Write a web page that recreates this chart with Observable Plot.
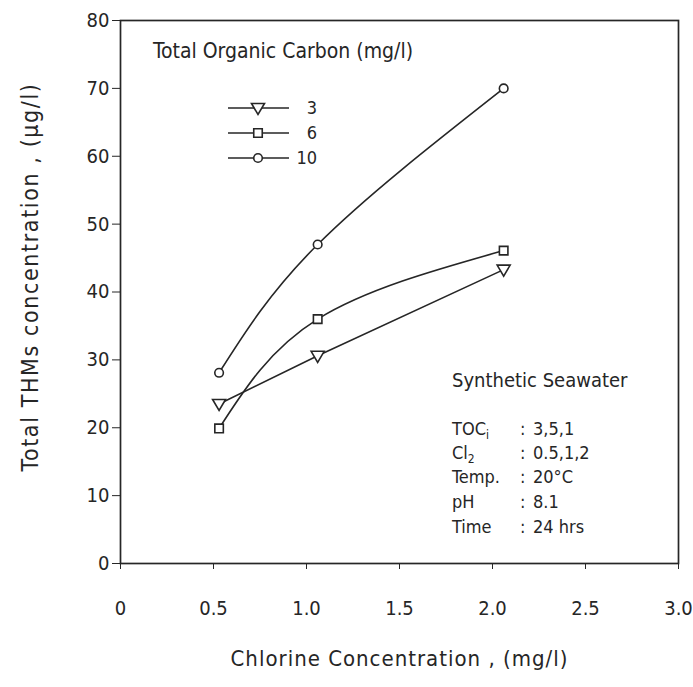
<!DOCTYPE html>
<html><head><meta charset="utf-8">
<script src="https://cdn.jsdelivr.net/npm/d3@7"></script>
<script src="https://cdn.jsdelivr.net/npm/@observablehq/plot@0.6"></script>
<style>body{margin:0;background:#fff}#chart svg{display:block}</style>
</head><body><div id="chart"></div>
<script>
// ---- data ----
const chlorine = [0.53, 1.06, 2.06];          // mg/l (as plotted)
const toc3  = [23.5, 30.6, 43.3];              // µg/l
const toc6  = [19.9, 36.0, 46.1];
const toc10 = [28.1, 47.0, 70.0];
const seriesNames = ["3", "6", "10"];
const xTicks = [0, 0.5, 1.0, 1.5, 2.0, 2.5, 3.0];
const yTicks = [0, 10, 20, 30, 40, 50, 60, 70, 80];
const xLabel = "Chlorine Concentration , (mg/l)";
const yLabel = "Total THMs concentration , (\u00b5g/l)";
const legendTitle = "Total Organic Carbon (mg/l)";
const noteTitle = "Synthetic Seawater";
const noteKeys = [["TOC", "i"], ["Cl", "2"], ["Temp.", ""], ["pH", ""], ["Time", ""]];
const noteValues = ["3,5,1", "0.5,1,2", "20\u00b0C", "8.1", "24 hrs"];

// ---- styling ----
const ink = "#262626";
const font = "'DejaVu Sans Condensed', 'DejaVu Sans', sans-serif";

const triDown = {
  draw(ctx, size) {
    const r = Math.sqrt(size / Math.PI);
    ctx.moveTo(-1.3 * r, -0.9 * r);
    ctx.lineTo(1.3 * r, -0.9 * r);
    ctx.lineTo(0, 1.3 * r);
    ctx.closePath();
  }
};
const symbols = [triDown, "square", "circle"];
const radii = [5, 4.8, 4.3];
const curves = ["linear", "natural", "natural"];
const seriesValues = [toc3, toc6, toc10];
const rows = seriesValues.map((vals, s) => vals.map((v, i) => ({x: chlorine[i], y: v, s: seriesNames[s]})));

const marks = [
  Plot.axisY({ticks: yTicks, tickSize: 8, tickPadding: 3, label: null, fontSize: 20, stroke: ink, fill: ink}),
  Plot.axisX({ticks: xTicks, tickSize: 6, tickPadding: 31, label: null, fontSize: 20, stroke: ink, fill: ink,
    tickFormat: d => d === 0 ? "0" : d.toFixed(1)}),
  Plot.frame({stroke: ink, strokeWidth: 1.7}),
  ...rows.map((r, s) => Plot.line(r, {x: "x", y: "y", curve: curves[s], stroke: ink, strokeWidth: 1.6})),
  ...rows.map((r, s) => Plot.dot(r, {x: "x", y: "y", symbol: symbols[s], r: radii[s], fill: "white", stroke: ink, strokeWidth: 1.6})),
  Plot.text([xLabel], {frameAnchor: "bottom", dy: 102, fontSize: 22, fill: ink, textAnchor: "middle", className: "xlab"}),
  Plot.text([yLabel], {frameAnchor: "left", dx: -90, dy: -15, rotate: -90, fontSize: 23, fill: ink, textAnchor: "middle", className: "ylab"})
];

const chart = Plot.plot({
  width: 693, height: 687,
  marginLeft: 120, marginRight: 15, marginTop: 20, marginBottom: 124,
  x: {domain: [0, 3]},
  y: {domain: [0, 80]},
  style: {fontFamily: font, color: ink, background: "white", overflow: "visible"},
  marks
});
document.getElementById("chart").append(chart);

// ---- in-plot legend and note, drawn with d3 on the same svg ----
const svg = d3.select(chart);
svg.selectAll("g.xlab text").attr("letter-spacing", 1);
svg.selectAll("g.ylab text").attr("letter-spacing", 1.6);
const g = svg.append("g").attr("font-family", font).attr("fill", ink).attr("text-anchor", "start");
g.append("text").attr("x", 153).attr("y", 58).attr("font-size", 21).text(legendTitle);
const legY = [108, 133, 158];
seriesNames.forEach((name, s) => {
  const row = g.append("g");
  row.append("line").attr("x1", 228).attr("x2", 289).attr("y1", legY[s]).attr("y2", legY[s])
    .attr("stroke", ink).attr("stroke-width", 1.6);
  const sz = Math.PI * radii[s] * radii[s];
  const sym = typeof symbols[s] === "string" ? (symbols[s] === "square" ? d3.symbolSquare : d3.symbolCircle) : symbols[s];
  row.append("path").attr("d", d3.symbol(sym, sz)()).attr("transform", `translate(258,${legY[s]})`)
    .attr("fill", "white").attr("stroke", ink).attr("stroke-width", 1.6);
  row.append("text").attr("x", 317).attr("y", legY[s]).attr("dy", "0.35em").attr("text-anchor", "end")
    .attr("font-size", 18).text(name);
});
g.append("text").attr("x", 452).attr("y", 387).attr("font-size", 20).text(noteTitle);
const noteY = [435, 459, 483, 508, 533];
noteKeys.forEach(([k, sub], i) => {
  const t = g.append("text").attr("x", 452).attr("y", noteY[i]).attr("font-size", 18);
  t.append("tspan").text(k);
  if (sub) t.append("tspan").attr("dy", 4).attr("font-size", 12).text(sub);
  g.append("text").attr("x", 520).attr("y", noteY[i]).attr("font-size", 18).text(":");
  g.append("text").attr("x", 533).attr("y", noteY[i]).attr("font-size", 18).text(noteValues[i]);
});
</script>
</body></html>
